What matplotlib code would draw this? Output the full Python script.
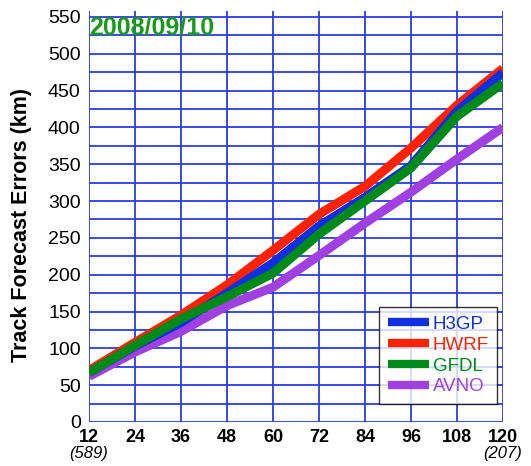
import matplotlib
matplotlib.use("Agg")
import matplotlib.pyplot as plt
import numpy as np

plt.rcParams['font.family'] = ['Liberation Sans', 'DejaVu Sans']

hours = [12, 24, 36, 48, 60, 72, 84, 96, 108, 120]
h3gp = [67, 103, 135, 175, 216, 266, 305, 348, 422, 474]
hwrf = [70, 108, 145, 186, 233, 282, 320, 372, 430, 480]
gfdl = [67, 104, 140, 170, 202, 255, 300, 345, 415, 460]
avno = [62, 95, 123, 158, 183, 226, 270, 312, 357, 400]
series_names = ["H3GP", "HWRF", "GFDL", "AVNO"]
series_colors = ["#1030e0", "#ff2200", "#008a1a", "#a040e0"]
y_ticks = list(range(0, 551, 50))
y_grid = list(range(0, 551, 25))
title = "2008/09/10"
ylabel = "Track Forecast Errors (km)"
case_counts = {12: "(589)", 120: "(207)"}

fig = plt.figure(figsize=(5.31, 4.66), dpi=100)
ax = fig.add_axes([89/531, 1-422/466, (503-89)/531, (422-11)/466])

grid_c = "#2a3ce6"
for y in y_grid:
    ax.axhline(y, color=grid_c, lw=1.3, zorder=1)
for x in hours:
    ax.axvline(x, color=grid_c, lw=1.3, zorder=1)

data = [h3gp, hwrf, gfdl, avno]
handles = []
for name, vals, c, z in zip(series_names, data, series_colors, [4, 3, 5, 2]):
    h, = ax.plot(hours, vals, color=c, lw=6.5, label=name, zorder=z,
                 solid_capstyle='butt', solid_joinstyle='round')
    handles.append(h)

ax.set_xlim(12, 120)
ax.set_ylim(0, 558)
for s in ax.spines.values():
    s.set_visible(False)
ax.set_xticks(hours)
ax.set_xticklabels([str(h) for h in hours], fontsize=13, fontweight='bold')
ax.set_yticks(y_ticks)
ax.set_yticklabels([str(v) for v in y_ticks], fontsize=14)
ax.tick_params(length=0, pad=6)
ax.tick_params(axis='x', pad=5)

fig.text(22/531, 1-225/466, ylabel, rotation=90, fontsize=15.5, fontweight='bold',
         ha='center', va='center')

ax.text(0.0, 0.988, title, transform=ax.transAxes, color="#1a9a1a",
        fontsize=18, fontweight='bold', va='top', ha='left', zorder=6)

for x, lab in case_counts.items():
    ax.annotate(lab, xy=(x, 0), xycoords=('data', 'axes fraction'),
                xytext=(0, -17), textcoords='offset points',
                ha='center', va='top', fontsize=12, fontstyle='italic',
                annotation_clip=False)

leg = ax.legend(handles=handles, loc='lower right', bbox_to_anchor=(0.986, 0.044),
                borderaxespad=0.0,
                fontsize=13.5, frameon=True, fancybox=False, handlelength=2.2,
                handletextpad=0.2, borderpad=0.45, labelspacing=0.2)
leg.get_frame().set_edgecolor('black')
leg.get_frame().set_linewidth(1.0)
for txt, c in zip(leg.get_texts(), series_colors):
    txt.set_color(c)
for lh in leg.get_lines():
    lh.set_linewidth(6)
leg.set_zorder(10)

fig.savefig("out.png", dpi=100)
